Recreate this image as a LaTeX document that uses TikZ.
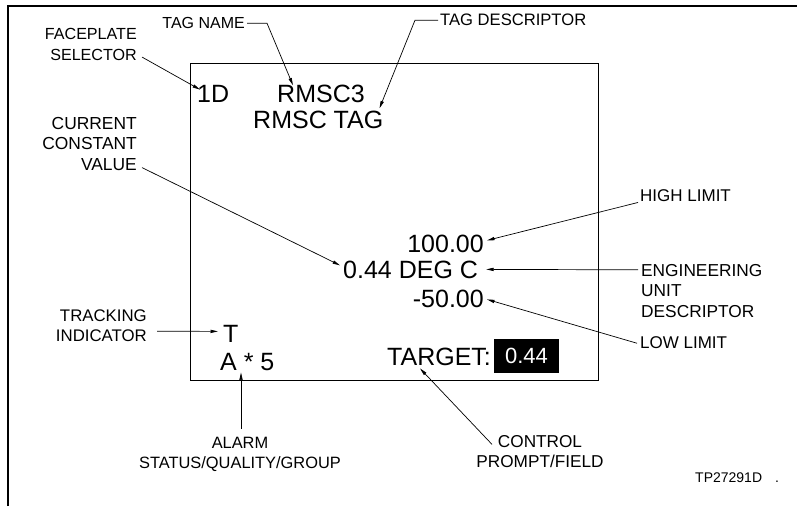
\documentclass[tikz,border=0pt]{standalone}
\usepackage{fontspec}
\setmainfont{Liberation Sans}
\usetikzlibrary{arrows.meta,calc}
\begin{document}
\begin{tikzpicture}[x=1pt,y=-1pt,
  lbl/.style={font=\fontsize{17}{20.5}\selectfont, inner sep=0pt},
  big/.style={font=\fontsize{25}{30}\selectfont, inner sep=0pt},
  lead/.style={line width=0.7pt, -{Triangle[length=7.5pt,width=3.2pt]}},
  frame/.style={line width=1.8pt},
  screen/.style={line width=1pt}]
\useasboundingbox (0,0) rectangle (797,506);
% outer frame
\draw[frame] (8,506) -- (8,6) -- (797,6);
% screen box
\draw[screen] (190,63) rectangle (598,380);

% screen contents
\node[big, anchor=base west] (fs) at (197,102) {1D};
\node[big, anchor=base west] (rmsc3) at (277,102) {RMSC3};
\node[big, anchor=base west] (rmsctag) at (253,128) {RMSC TAG};
\node[big, anchor=base east] (hundred) at (484,252) {100.00};
\node[big, anchor=base west] (val) at (343,278) {0.44 DEG C};
\node[big, anchor=base east] (minus) at (484,307) {-50.00};
\node[big, anchor=base west] (tnode) at (223,342) {T};
\node[big, anchor=base west] (alarm5) at (220,370) {A * 5};
\node[big, anchor=base west] (target) at (387,365) {TARGET:};
\node[fill=black, text=white, inner sep=0pt, minimum width=65pt, minimum height=34pt,
      font=\fontsize{22}{26}\selectfont] (fld) at (526.5,356) {0.44};

% labels
\node[lbl, font=\fontsize{16}{20}\selectfont, anchor=base east] (tagname) at (245,28.7) {TAG NAME};
\node[lbl, font=\fontsize{16.6}{20}\selectfont, anchor=base west] (tagdesc) at (440,25.9) {TAG DESCRIPTOR};
\node[lbl, font=\fontsize{16.1}{21.5}\selectfont, anchor=base east, align=right] (face) at (137,60.7) {FACEPLATE\\SELECTOR};
\node[lbl, font=\fontsize{17.4}{20.5}\selectfont, anchor=base east, align=right] (curr) at (137,170.2) {CURRENT\\CONSTANT\\VALUE};
\node[lbl, anchor=base west] (hi) at (640,201.1) {HIGH LIMIT};
\node[lbl, font=\fontsize{17.3}{20.75}\selectfont, anchor=base west, align=left] (eng) at (641,317.6) {ENGINEERING\\UNIT\\DESCRIPTOR};
\node[lbl, anchor=base west] (lo) at (640,348.6) {LOW LIMIT};
\node[lbl, font=\fontsize{16.8}{20}\selectfont, anchor=base east, align=right] (track) at (147,341) {TRACKING\\INDICATOR};
\node[lbl, font=\fontsize{16.4}{20}\selectfont, anchor=base, align=center] (alarm) at (240,468) {ALARM\\STATUS/QUALITY/GROUP};
\node[lbl, font=\fontsize{17.2}{20}\selectfont, anchor=base, align=center] (control) at (540,467.6) {CONTROL\\PROMPT/FIELD};
\node[font=\fontsize{14}{17}\selectfont, inner sep=0pt, anchor=base west] (tp) at (695,482) {TP27291D\hspace{13pt}.};

% leaders
\draw[lead] ($(tagname.east)+(2,0)$) -- ++(20,0) -- ($(rmsc3.north west)+(16,1)$);
\draw[lead] ($(tagdesc.west)+(-2,0)$) -- ++(-23,0) -- ($(rmsctag.north east)+(-4,-2)$);
\draw[lead] ($(face.south east)+(5,-4)$) -- ($(fs.north west)+(3,5)$);
\draw[lead] ($(curr.south east)+(5,-3)$) -- ($(val.north west)+(-3,5)$);
\draw[lead] ($(hi.south west)+(-2,1)$) -- ($(hundred.east)+(3,-3)$);
\draw[lead] ($(eng.north west)+(-3,6)$) -- ($(val.east)+(8,0)$);
\draw[lead] ($(lo.west)+(-3,0.5)$) -- ($(minus.east)+(3,1)$);
\draw[lead] ($(track.east)+(10,6)$) -- ($(tnode.west)+(-5,-2)$);
\draw[lead] ($(alarm.north)+(1,-8)$) -- ($(alarm5.south west)+(21,2)$);
\draw[lead] ($(control.north)+(-48,9)$) -- ($(target.south west)+(33,3)$);
\end{tikzpicture}
\end{document}
